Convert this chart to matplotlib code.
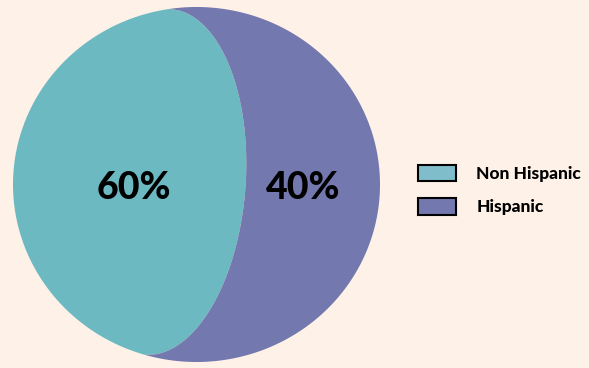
import numpy as np
import matplotlib.pyplot as plt
from matplotlib.patches import Polygon, Patch

categories = ['Non Hispanic', 'Hispanic']
shares = [60, 40]
colors = ['#6cb9c2', '#7378ae']
legend_colors = ['#7fbdca', '#7378ae']
label_text = ['60%', '40%']

bg = '#fdf1e8'


def shoelace(pts):
    x, y = pts[:, 0], pts[:, 1]
    return 0.5 * abs(np.dot(x, np.roll(y, 1)) - np.dot(y, np.roll(x, 1)))


# ends of the curved split on the rim (angles in degrees)
top_ang, bot_ang = np.radians(98.3), np.radians(253.7)
top = np.array([np.cos(top_ang), np.sin(top_ang)])
bot = np.array([np.cos(bot_ang), np.sin(bot_ang)])
chord = top - bot
normal = np.array([chord[1], -chord[0]]) / np.hypot(*chord)  # points right
t = np.linspace(0, 1, 300)


def divider(h):
    bump = 2 * np.sqrt(t * (1 - t)) * h
    return bot + np.outer(t, chord) + np.outer(bump, normal)


def left_region(h):
    arc_a = np.linspace(top_ang, bot_ang, 400)
    arc = np.column_stack([np.cos(arc_a), np.sin(arc_a)])
    return np.vstack([arc, divider(h)])


def right_region(h):
    arc_a = np.linspace(bot_ang, top_ang + 2 * np.pi, 400)
    arc = np.column_stack([np.cos(arc_a), np.sin(arc_a)])
    return np.vstack([arc, divider(h)[::-1]])


# find the bulge so the left piece holds its share of the disc
frac = shares[0] / sum(shares)
full = shoelace(np.column_stack([np.cos(np.linspace(0, 2 * np.pi, 800)),
                                 np.sin(np.linspace(0, 2 * np.pi, 800))]))
lo, hi = 0.0, 1.0
for _ in range(60):
    mid = (lo + hi) / 2
    if shoelace(left_region(mid)) / full < frac:
        lo = mid
    else:
        hi = mid
h = (lo + hi) / 2

fig = plt.figure(figsize=(5.89, 3.68), dpi=100, facecolor=bg)
ax = fig.add_axes([13 / 589, 6 / 368, 367 / 589, 355 / 368])
ax.set_xlim(-1, 1)
ax.set_ylim(-1, 1)
ax.axis('off')

pieces = [left_region(h), right_region(h)]
for pts, c in zip(pieces, colors):
    ax.add_patch(Polygon(pts, closed=True, facecolor=c, lw=0))

ax.text(-0.34, -0.02, label_text[0], ha='center', va='center', fontsize=27,
        fontweight='black', family=['Lato', 'DejaVu Sans'], color='black')
ax.text(0.58, -0.02, label_text[1], ha='center', va='center', fontsize=27,
        fontweight='black', family=['Lato', 'DejaVu Sans'], color='black')

handles = [Patch(facecolor=c, edgecolor='black', lw=1.5) for c in legend_colors]
fig.legend(handles, categories, loc='upper left',
           bbox_to_anchor=(418 / 589, 1 - 165 / 368), frameon=False,
           borderpad=0, borderaxespad=0, handlelength=2.2, handleheight=1.05,
           handletextpad=1.15, labelspacing=0.95,
           prop={'family': ['Lato', 'DejaVu Sans'], 'weight': 'black', 'size': 12.5})

fig.savefig('out.png', dpi=100, facecolor=bg)
